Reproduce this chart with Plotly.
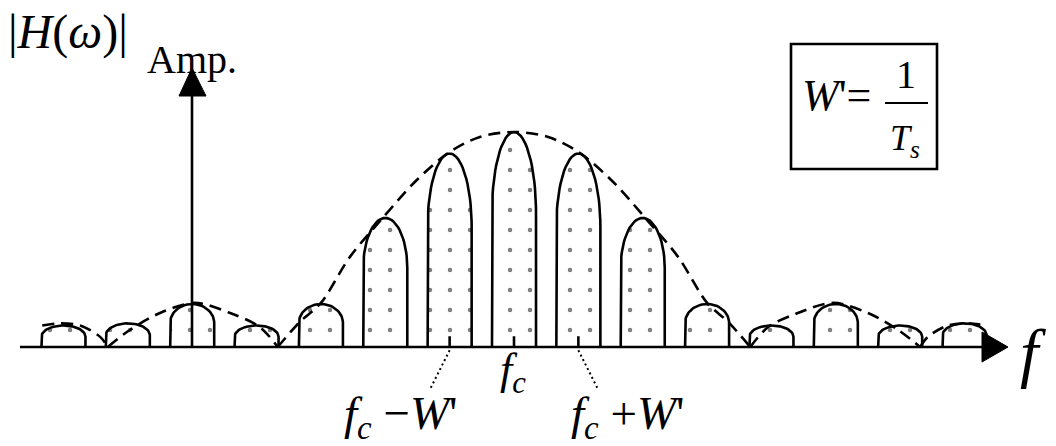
import math
import plotly.graph_objects as go

# Spectral lobes: offset from the carrier (in units of W') and peak amplitude
lobe_offsets = [-7, -6, -5, -4, -3, -2, -1, 0, 1, 2, 3, 4, 5, 6, 7]
lobe_heights = [0.10, 0.11, 0.20, 0.10, 0.20, 0.60, 0.90, 1.00,
                0.90, 0.60, 0.20, 0.10, 0.20, 0.10, 0.11]

# Sampled |H(w)| envelope (dashed), zeros split it into separate humps
env_x = [-7.33, -7.05, -6.74, -6.43, -6.31, -5.97, -5.50, -4.96, -4.41, -3.95,
         -3.67, -3.33, -3.00, -2.55, -2.04, -1.51, -1.00, -0.53, 0.00, 0.53,
         1.00, 1.51, 2.04, 2.55, 3.00, 3.33, 3.67, 3.95, 4.41, 4.96, 5.50,
         5.97, 6.31, 6.43, 6.74, 7.05, 7.33]
env_y = [0.10, 0.11, 0.10, 0.047, 0.0, 0.079, 0.158, 0.205, 0.158, 0.093,
         0.0, 0.116, 0.205, 0.419, 0.60, 0.777, 0.907, 0.977, 1.00, 0.977,
         0.907, 0.777, 0.60, 0.419, 0.205, 0.116, 0.0, 0.093, 0.158, 0.205,
         0.158, 0.079, 0.0, 0.047, 0.10, 0.11, 0.10]

tick_offsets = [-1, 0, 1]
tick_labels = ["<i>f</i><sub><i>c</i></sub> \u2212<i>W</i>'",
               "<i>f</i><sub><i>c</i></sub>",
               "<i>f</i><sub><i>c</i></sub> +<i>W</i>'"]

W, H = 1056, 446
X_RANGE = [-7.986, 8.421]
Y_RANGE = [-0.4605, 1.614]
FONT = "Liberation Serif"
LW = 2.6


def px(x, y):
    """Pixel position -> paper coordinates."""
    return x / W, 1 - y / H


def dx(x_px):
    return X_RANGE[0] + (X_RANGE[1] - X_RANGE[0]) * x_px / W


def dy(y_px):
    return Y_RANGE[1] - (Y_RANGE[1] - Y_RANGE[0]) * y_px / H


fig = go.Figure()

# Rounded lobes: vertical sides with an elliptical cap, stippled fill
half_w = 0.342
for c, h in zip(lobe_offsets, lobe_heights):
    cap = min(0.36 * h + 0.016, h)
    base = h - cap
    xs, ys = [c - half_w, c - half_w], [0, base]
    n = 40
    for i in range(n + 1):
        t = math.pi - math.pi * i / n
        xs.append(c + half_w * math.cos(t))
        ys.append(base + cap * math.sin(t))
    xs += [c + half_w, c + half_w]
    ys += [base, 0]
    fig.add_trace(go.Scatter(
        x=xs, y=ys, mode="lines", fill="toself", fillcolor="white",
        fillpattern=dict(shape=".", size=20, solidity=0.04,
                         fgcolor="black", bgcolor="white"),
        line=dict(color="black", width=LW), hoverinfo="skip",
        showlegend=False))

# Envelope humps
env_line = dict(color="black", width=LW, dash="12px,7px", shape="spline",
                smoothing=0.9)
seg_x, seg_y = [], []
for x, y in zip(env_x, env_y):
    seg_x.append(x)
    seg_y.append(y)
    if y == 0 and len(seg_x) > 1:
        fig.add_trace(go.Scatter(x=seg_x, y=seg_y, mode="lines", line=env_line,
                                 hoverinfo="skip", showlegend=False))
        seg_x, seg_y = [x], [y]
if len(seg_x) > 1:
    fig.add_trace(go.Scatter(x=seg_x, y=seg_y, mode="lines", line=env_line,
                             hoverinfo="skip", showlegend=False))

# Small ticks on the frequency axis
for k in tick_offsets:
    fig.add_trace(go.Scatter(x=[k, k], y=[0, 0.05], mode="lines",
                             line=dict(color="black", width=LW),
                             hoverinfo="skip", showlegend=False))

# Dotted leaders to the side labels
for k, lx in ((-1, -1.31), (1, 1.31)):
    fig.add_trace(go.Scatter(x=[k, lx], y=[-0.015, -0.20], mode="lines",
                             line=dict(color="black", width=2, dash="2px,3px"),
                             hoverinfo="skip", showlegend=False))

shapes = []
# Frequency axis with arrowhead
shapes.append(dict(type="line", x0=dx(20), x1=dx(990), y0=0, y1=0,
                   line=dict(color="black", width=LW), layer="above"))
shapes.append(dict(type="path",
                   path=f"M {dx(982)},{dy(332)} L {dx(1008)},0 L {dx(982)},{dy(362)} Z",
                   fillcolor="black", line=dict(color="black", width=1),
                   layer="above"))
# Amplitude axis with arrowhead
shapes.append(dict(type="line", x0=dx(192), x1=dx(192), y0=0, y1=dy(92),
                   line=dict(color="black", width=LW), layer="above"))
shapes.append(dict(type="path",
                   path=f"M {dx(179)},{dy(96)} L {dx(192)},{dy(68)} L {dx(206)},{dy(96)} Z",
                   fillcolor="black", line=dict(color="black", width=1),
                   layer="above"))
# Boxed definition of W'
shapes.append(dict(type="rect", x0=dx(791), x1=dx(937), y0=dy(44), y1=dy(169),
                   line=dict(color="black", width=LW), layer="above"))
shapes.append(dict(type="line", x0=dx(885), x1=dx(928), y0=dy(103), y1=dy(103),
                   line=dict(color="black", width=2), layer="above"))

annotations = []


def text(x, y, s, size, xanchor="center", yanchor="middle"):
    ax, ay = px(x, y)
    annotations.append(dict(x=ax, y=ay, xref="paper", yref="paper", text=s,
                            showarrow=False, xanchor=xanchor, yanchor=yanchor,
                            font=dict(family=FONT, size=size, color="black")))


text(68, 32, "|<i>H</i>(<i>\u03c9</i>)|", 48)
text(192, 60, "Amp.", 40)
text(1033, 352, "<i>f</i>", 66)
text(836, 96, "<i>W</i>'=", 44)
text(906, 74, "1", 40)
text(905, 140, "<i>T</i><sub><i>s</i></sub>", 36)

# Frequency labels below the axis
label_pos = [(401, 416), (513, 372), (628, 416)]
label_size = [47, 44, 47]
for (lx, ly), s, fs in zip(label_pos, tick_labels, label_size):
    text(lx, ly, s, fs)

fig.update_layout(
    width=W, height=H, margin=dict(l=0, r=0, t=0, b=0),
    paper_bgcolor="white", plot_bgcolor="white",
    xaxis=dict(range=X_RANGE, visible=False, fixedrange=True),
    yaxis=dict(range=Y_RANGE, visible=False, fixedrange=True),
    shapes=shapes, annotations=annotations, showlegend=False,
)

fig.write_html("out.html")
